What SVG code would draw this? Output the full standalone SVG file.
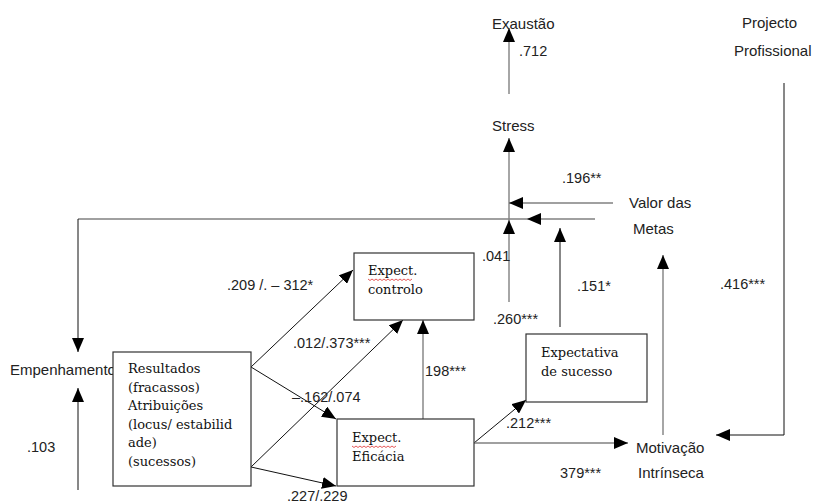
<svg xmlns="http://www.w3.org/2000/svg" width="814" height="504" viewBox="0 0 814 504">
<style>
.lbl{font-family:"Liberation Sans",Arial,sans-serif;font-size:15px;fill:#222}
.num{font-family:"Liberation Sans",Arial,sans-serif;font-size:14.5px;fill:#222}
.box{fill:#fff;stroke:#333;stroke-width:1.2}
.bt{font-family:"DejaVu Serif","Liberation Serif",serif;font-size:13px;fill:#111}
.g{fill:none;stroke:#808080;stroke-width:1.4}
.k{fill:none;stroke:#111;stroke-width:1}
.sq{fill:none;stroke:#e03030;stroke-width:0.8}
</style>
<defs>
<marker id="ah" viewBox="0 0 14 12" refX="14" refY="6" markerWidth="14" markerHeight="12" markerUnits="userSpaceOnUse" orient="auto">
<path d="M0,0 L14,6 L0,12 z" fill="#000"/>
</marker>
</defs>
<rect width="814" height="504" fill="#fff"/>

<g id="labels-behind">
<text id="empenhamento" class="lbl" x="10" y="375">Empenhamento</text>
</g>

<g id="connectors">
<!-- Stress -> Exaustao -->
<line class="g" x1="509" y1="94" x2="509" y2="28" marker-end="url(#ah)"/>
<!-- up to Stress -->
<line class="g" x1="509" y1="220" x2="509" y2="138" marker-end="url(#ah)"/>
<line class="g" x1="509" y1="302" x2="509" y2="220" marker-end="url(#ah)"/>
<!-- Valor das Metas -> Stress -->
<line class="g" x1="613" y1="203" x2="509" y2="203" marker-end="url(#ah)"/>
<!-- Valor das Metas -> Empenhamento -->
<line class="g" x1="595" y1="219" x2="527" y2="219" marker-end="url(#ah)"/>
<polyline class="g" points="527,219 78,219"/>
<line class="k" x1="78" y1="219" x2="78" y2="352" marker-end="url(#ah)"/>
<!-- bottom -> Empenhamento -->
<line class="k" x1="78" y1="490" x2="78" y2="388" marker-end="url(#ah)"/>
<!-- Expectativa -> up -->
<line class="k" x1="560" y1="327" x2="560" y2="228" marker-end="url(#ah)"/>
<!-- Motivacao -> Valor das Metas -->
<line class="g" x1="663" y1="435" x2="663" y2="255" marker-end="url(#ah)"/>
<!-- Projecto Profissional -> Motivacao -->
<polyline class="k" points="784,83 784,435 716,435" marker-end="url(#ah)"/>
<!-- Resultados -> controlo -->
<line class="k" x1="251" y1="367" x2="353" y2="270" marker-end="url(#ah)"/>
<!-- Resultados -> Eficacia -->
<line class="k" x1="251" y1="367" x2="336" y2="419" marker-end="url(#ah)"/>
<line class="k" x1="251" y1="467" x2="403" y2="320" marker-end="url(#ah)"/>
<line class="k" x1="251" y1="467" x2="336" y2="486" marker-end="url(#ah)"/>
<!-- Eficacia -> controlo -->
<line class="g" x1="423" y1="419" x2="423" y2="320" marker-end="url(#ah)"/>
<!-- Eficacia -> Expectativa -->
<line class="k" x1="474" y1="443" x2="526" y2="400" marker-end="url(#ah)"/>
<!-- Eficacia -> Motivacao -->
<line class="g" x1="474" y1="443" x2="628" y2="443" marker-end="url(#ah)"/>
</g>

<g id="exaustao"><text class="lbl" x="492" y="29">Exaustão</text></g>
<g id="stress"><text class="lbl" x="492" y="131">Stress</text></g>
<g id="projecto"><text class="lbl" x="742" y="28">Projecto</text><text class="lbl" x="734" y="56">Profissional</text></g>
<g id="valor"><text class="lbl" x="629" y="208">Valor das</text><text class="lbl" x="633" y="234">Metas</text></g>
<g id="motivacao"><text class="lbl" x="636" y="453">Motivação</text><text class="lbl" x="638" y="478">Intrínseca</text></g>

<g id="controlo">
<rect class="box" x="354" y="253" width="120" height="67"/>
<text class="bt" x="368" y="275">Expect.</text>
<text class="bt" x="368" y="294">controlo</text>
<path class="sq" d="M368,279 l2,1.5 l2,-1.5 l2,1.5 l2,-1.5 l2,1.5 l2,-1.5 l2,1.5 l2,-1.5 l2,1.5 l2,-1.5 l2,1.5 l2,-1.5 l2,1.5 l2,-1.5 l2,1.5 l2,-1.5 l2,1.5 l2,-1.5 l2,1.5 l2,-1.5 l2,1.5 l2,-1.5"/>
</g>
<g id="eficacia">
<rect class="box" x="337" y="419" width="137" height="67"/>
<text class="bt" x="352" y="442">Expect.</text>
<text class="bt" x="352" y="461">Eficácia</text>
<path class="sq" d="M352,446 l2,1.5 l2,-1.5 l2,1.5 l2,-1.5 l2,1.5 l2,-1.5 l2,1.5 l2,-1.5 l2,1.5 l2,-1.5 l2,1.5 l2,-1.5 l2,1.5 l2,-1.5 l2,1.5 l2,-1.5 l2,1.5 l2,-1.5 l2,1.5 l2,-1.5 l2,1.5 l2,-1.5"/>
</g>
<g id="expectativa">
<rect class="box" x="526" y="334" width="121" height="68"/>
<text class="bt" x="541" y="357">Expectativa</text>
<text class="bt" x="541" y="376">de sucesso</text>
</g>
<g id="resultados">
<rect class="box" x="113" y="352" width="138" height="134"/>
<text class="bt" x="128" y="373">Resultados</text>
<text class="bt" x="128" y="392">(fracassos)</text>
<text class="bt" x="128" y="410">Atribuições</text>
<text class="bt" x="128" y="429">(locus/ estabilid</text>
<text class="bt" x="128" y="447">ade)</text>
<text class="bt" x="128" y="466">(sucessos)</text>
</g>

<g id="coefficients">
<text class="num" x="519" y="56">.712</text>
<text class="num" x="562" y="183">.196**</text>
<text class="num" x="482" y="261">.041</text>
<text class="num" x="577" y="291">.151*</text>
<text class="num" x="493" y="324">.260***</text>
<text class="num" x="720" y="289">.416***</text>
<text class="num" x="227" y="290">.209 /. – 312*</text>
<text class="num" x="293" y="348">.012/.373***</text>
<text class="num" x="292" y="402">–.162/.074</text>
<text class="num" x="425" y="376">198***</text>
<text class="num" x="506" y="428">.212***</text>
<text class="num" x="560" y="478">379***</text>
<text class="num" x="287" y="501">.227/.229</text>
<text class="num" x="27" y="452">.103</text>
</g>
</svg>
